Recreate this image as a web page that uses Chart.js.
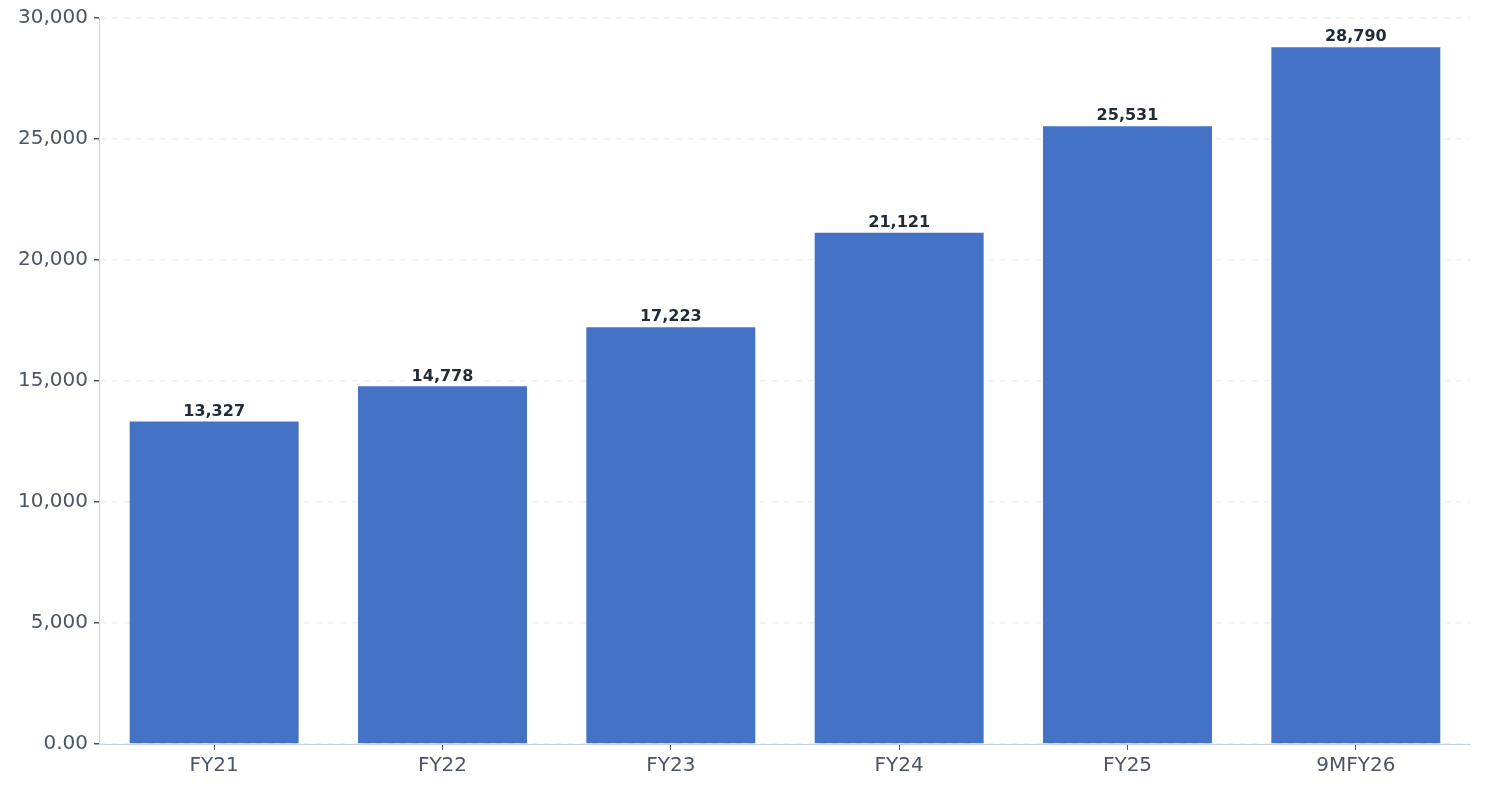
<!DOCTYPE html>
<html>
<head>
<meta charset="utf-8">
<script src="https://cdn.jsdelivr.net/npm/chart.js@4"></script>
<style>
  html, body { margin: 0; padding: 0; background: #ffffff; }
  #wrap { width: 1485px; height: 794px; }
</style>
</head>
<body>
<div id="wrap"><canvas id="barChart"></canvas></div>
<script>
const categories = ["FY21", "FY22", "FY23", "FY24", "FY25", "9MFY26"];
const values = [13327, 14778, 17223, 21121, 25531, 28790];
const yTicks = [0, 5000, 10000, 15000, 20000, 25000, 30000];

// draws the value above each bar
const valueLabels = {
    id: "valueLabels",
    afterDatasetsDraw(chart) {
        const ctx = chart.ctx;
        const meta = chart.getDatasetMeta(0);
        ctx.save();
        ctx.font = "bold 16px 'DejaVu Sans'";
        ctx.fillStyle = "#222b38";
        ctx.textAlign = "center";
        ctx.textBaseline = "bottom";
        meta.data.forEach((bar, i) => {
            ctx.fillText(values[i].toLocaleString("en-US"), bar.x, bar.y - 2);
        });
        ctx.restore();
    }
};

new Chart(document.getElementById("barChart"), {
    type: "bar",
    data: {
        labels: categories,
        datasets: [{
            data: values,
            backgroundColor: "#4472c4",
            barPercentage: 0.74,
            categoryPercentage: 1.0
        }]
    },
    options: {
        responsive: true,
        maintainAspectRatio: false,
        animation: false,
        layout: { padding: { top: 10, right: 15, left: 12, bottom: 12 } },
        plugins: { legend: { display: false }, tooltip: { enabled: false } },
        scales: {
            x: {
                offset: true,
                grid: { offset: false, drawOnChartArea: false, tickLength: 6, tickColor: "#4b5563" },
                border: { color: "#c9d3e0" },
                ticks: { color: "#4b5563", font: { family: "DejaVu Sans", size: 20 }, padding: 4 }
            },
            y: {
                min: 0,
                max: 30000,
                afterBuildTicks(axis) { axis.ticks = yTicks.map(v => ({ value: v })); },
                grid: { color: "#eef0f3", tickLength: 6, tickColor: "#4b5563", lineWidth: 1.5 },
                border: { color: "#c9d3e0", dash: [6, 6] },
                ticks: {
                    color: "#4b5563",
                    font: { family: "DejaVu Sans", size: 20 },
                    padding: 6,
                    callback: v => v === 0 ? "0.00" : v.toLocaleString("en-US")
                }
            }
        }
    },
    plugins: [valueLabels]
});
</script>
</body>
</html>
